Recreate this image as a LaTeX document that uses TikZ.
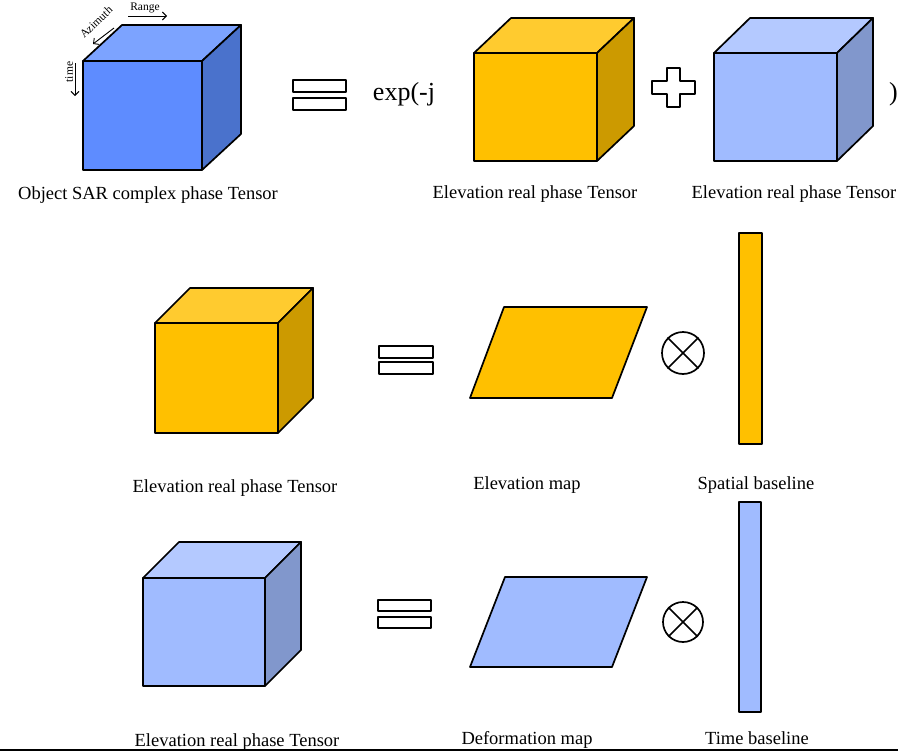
\documentclass[tikz,border=0pt]{standalone}
\usepackage{fontspec}
\setmainfont{Liberation Serif}
\usetikzlibrary{arrows.meta}

% face colours
\definecolor{sarFront}{RGB}{94,140,255}
\definecolor{sarTop}{RGB}{124,163,255}
\definecolor{sarSide}{RGB}{74,114,204}
\definecolor{elvFront}{RGB}{255,192,0}
\definecolor{elvTop}{RGB}{255,203,47}
\definecolor{elvSide}{RGB}{204,154,0}
\definecolor{defFront}{RGB}{160,187,255}
\definecolor{defTop}{RGB}{180,201,255}
\definecolor{defSide}{RGB}{129,151,204}

\tikzset{
  edge/.style={draw=black, line width=1.7pt, line join=round},
  caption/.style={inner sep=0pt, anchor=base, font=\fontsize{18.5}{22}\selectfont},
  formula/.style={inner sep=0pt, anchor=base, font=\fontsize{26}{30}\selectfont},
  axislabel/.style={inner sep=0pt, font=\fontsize{11.5}{13}\selectfont},
  axisarrow/.style={line width=0.9pt, -{Straight Barb[length=4pt,width=8pt]}},
  eqbar/.style={edge, fill=white, line width=2pt},
}

% #1,#2 front top-left corner; #3 width; #4 height; #5,#6 depth offset; #7-#9 face colours
\newcommand{\tensorcube}[9]{%
  \filldraw[edge, fill=#8] (#1,#2) -- ++(#5,-#6) -- ++(#3,0) -- ++(-#5,#6) -- cycle;
  \filldraw[edge, fill=#9] (#1+#3,#2) -- ++(#5,-#6) -- ++(0,#4) -- ++(-#5,#6) -- cycle;
  \filldraw[edge, fill=#7] (#1,#2) rectangle ++(#3,#4);
}
% equals sign made of two outlined bars: #1 left, #2 top, #3 width, #4 bar height, #5 gap
\newcommand{\eqsign}[5]{%
  \filldraw[eqbar] (#1,#2) rectangle ++(#3,#4);
  \filldraw[eqbar] (#1,#2+#4+#5) rectangle ++(#3,#4);
}
% circled times: #1 node name, #2 centre, #3 diameter
\newcommand{\otimesmark}[3]{%
  \node[circle, draw, line width=1.7pt, minimum size=#3pt, inner sep=0pt] (#1) at (#2) {};
  \draw[line width=1.7pt] (#1.north west) -- (#1.south east) (#1.north east) -- (#1.south west);
}

\begin{document}
\begin{tikzpicture}[x=1pt, y=-1pt]
\useasboundingbox (0,0) rectangle (898,755);

% ---------- first row ----------
\tensorcube{83}{61}{119}{109}{39}{36}{sarFront}{sarTop}{sarSide}
\node[axislabel] (range) at (145,8) {Range};
\coordinate (rangeA) at (128,16);
\coordinate (rangeB) at (167,16);
\draw[axisarrow] (rangeA) -- (rangeB);
\node[axislabel, rotate=44] (azimuth) at (96,22) {Azimuth};
\coordinate (azA) at (114,28);
\coordinate (azB) at (93,44);
\draw[axisarrow] (azA) -- (azB);
\node[axislabel, rotate=90] (time) at (69,72) {time};
\coordinate (timeA) at (75,63);
\coordinate (timeB) at (75,96);
\draw[axisarrow] (timeA) -- (timeB);
\node[caption] (capSar) at (148,199) {Object SAR complex phase Tensor};

\eqsign{293}{80}{53}{12}{6}
\node[formula] (expj) at (404,100) {exp(-j};

\tensorcube{474}{53}{123}{108}{37}{35}{elvFront}{elvTop}{elvSide}
\node[caption] (capElvA) at (535,198) {Elevation real phase Tensor};

% plus sign
\filldraw[edge, fill=white, line width=1.8pt]
  (667,68) -- (680,68) -- (680,81) -- (695,81) -- (695,94) -- (680,94)
  -- (680,107) -- (667,107) -- (667,94) -- (652,94) -- (652,81) -- (667,81) -- cycle;

\tensorcube{714}{53}{123}{108}{36}{35}{defFront}{defTop}{defSide}
\node[caption] (capDefA) at (794,198) {Elevation real phase Tensor};
\node[formula, anchor=base west] (rparen) at (889,100) {)};

% ---------- second row ----------
\tensorcube{155}{323}{123}{110}{35}{35}{elvFront}{elvTop}{elvSide}
\node[caption] (capElvB) at (235,492) {Elevation real phase Tensor};
\eqsign{379}{346}{54}{12}{4}
\filldraw[edge, fill=elvFront] (504,307) -- (647,307) -- (612,398) -- (470,398) -- cycle;
\node[caption] (capElvMap) at (527,489) {Elevation map};
\otimesmark{otA}{683,353}{42}
\filldraw[edge, fill=elvFront] (739,233) rectangle (762,444);
\node[caption] (capSpatial) at (756,489) {Spatial baseline};

% ---------- third row ----------
\tensorcube{143}{578}{122}{108}{36}{36}{defFront}{defTop}{defSide}
\node[caption] (capDefB) at (237,746) {Elevation real phase Tensor};
\eqsign{378}{600}{53}{11}{6}
\filldraw[edge, fill=defFront] (505,577) -- (647,577) -- (612,667) -- (470,667) -- cycle;
\node[caption] (capDefMap) at (527,744) {Deformation map};
\otimesmark{otB}{683,622}{40}
\filldraw[edge, fill=defFront] (739,502) rectangle (761,712);
\node[caption] (capTime) at (757,744) {Time baseline};

% bottom rule
\coordinate (ruleL) at (0,750);
\coordinate (ruleR) at (898,750);
\draw[line width=1.6pt] (ruleL) -- (ruleR);
\end{tikzpicture}
\end{document}
